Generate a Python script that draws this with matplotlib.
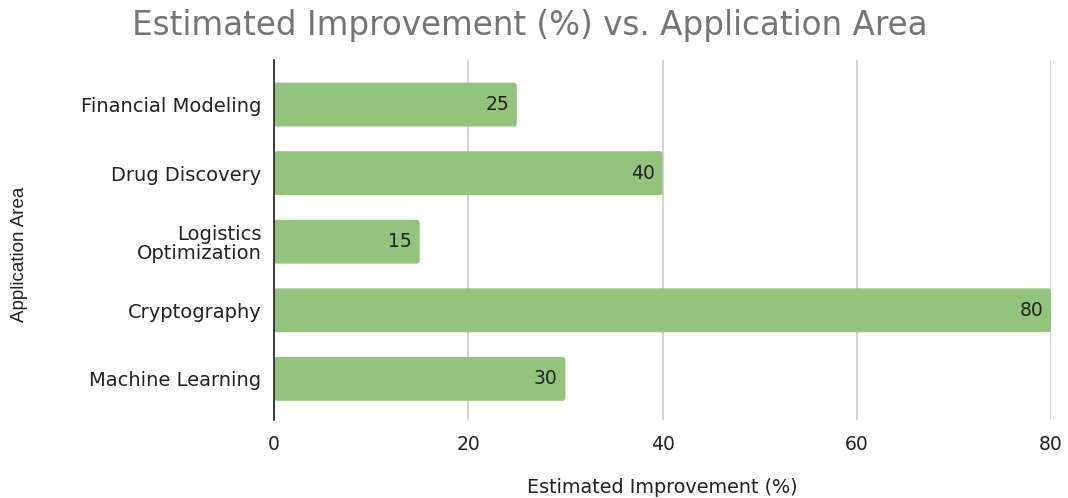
import matplotlib
matplotlib.use("Agg")
import matplotlib.pyplot as plt
from matplotlib.patches import FancyBboxPatch
from matplotlib import font_manager

categories = ["Machine Learning", "Cryptography", "Logistics\nOptimization", "Drug Discovery", "Financial Modeling"]
values = [30, 80, 15, 40, 25]
xticks = [0, 20, 40, 60, 80]

names = {f.name for f in font_manager.fontManager.ttflist}
narrow = "Liberation Sans Narrow" if "Liberation Sans Narrow" in names else "Liberation Sans"
plt.rcParams['font.family'] = ['DejaVu Sans']

fig = plt.figure(figsize=(10.68, 4.98), dpi=100)
ax = fig.add_axes([274/1068, 1-420/498, (1051-274)/1068, 360/498])

bars = ax.barh(range(len(categories)), values, height=0.64, color="#93c47d", zorder=3)
# rounded corners: replace each rectangle by a rounded box of the same geometry
xpx = (1051 - 274) / 80.0
ypx = 360 / 5.25
for b in bars:
    x, y, w, h = b.get_x(), b.get_y(), b.get_width(), b.get_height()
    p = FancyBboxPatch((x, y), w, h, boxstyle="round,pad=0,rounding_size=0.3",
                       mutation_aspect=xpx / ypx, facecolor="#93c47d", edgecolor="none", zorder=3)
    ax.add_patch(p)
    b.set_visible(False)

for i, v in enumerate(values):
    ax.text(v - 0.8, i, str(v), ha="right", va="center", fontsize=13.5, color="#222222", zorder=4)

ax.set_xlim(0, 80)
ax.set_ylim(-0.6, 4.65)
ax.set_xticks(xticks)
ax.set_yticks(range(len(categories)))
ax.set_yticklabels(categories, fontsize=14, color="#222222", linespacing=1.0)
ax.tick_params(axis="x", labelsize=13.5, labelcolor="#222222", length=0, pad=11)
ax.tick_params(axis="y", length=0, pad=9)
ax.grid(axis="x", color="#cccccc", linewidth=1.2, zorder=0)
for s in ["top", "right", "bottom"]:
    ax.spines[s].set_visible(False)
ax.spines["left"].set_color("#222222")
ax.spines["left"].set_linewidth(1.2)
ax.spines["left"].set_zorder(5)

fig.text(530/1068, 1-25/498, "Estimated Improvement (%) vs. Application Area", ha="center", va="center",
         fontsize=23.5, color="#757575")
fig.text(662/1068, 1-487/498, "Estimated Improvement (%)", ha="center", va="center", fontsize=13.8, color="#222222")
fig.text(20/1068, 1-254/498, "Application Area", ha="center", va="center", rotation=90,
         fontsize=13.5, color="#222222", family=[narrow, 'DejaVu Sans'])

fig.savefig("out.png", dpi=100, facecolor="white")
